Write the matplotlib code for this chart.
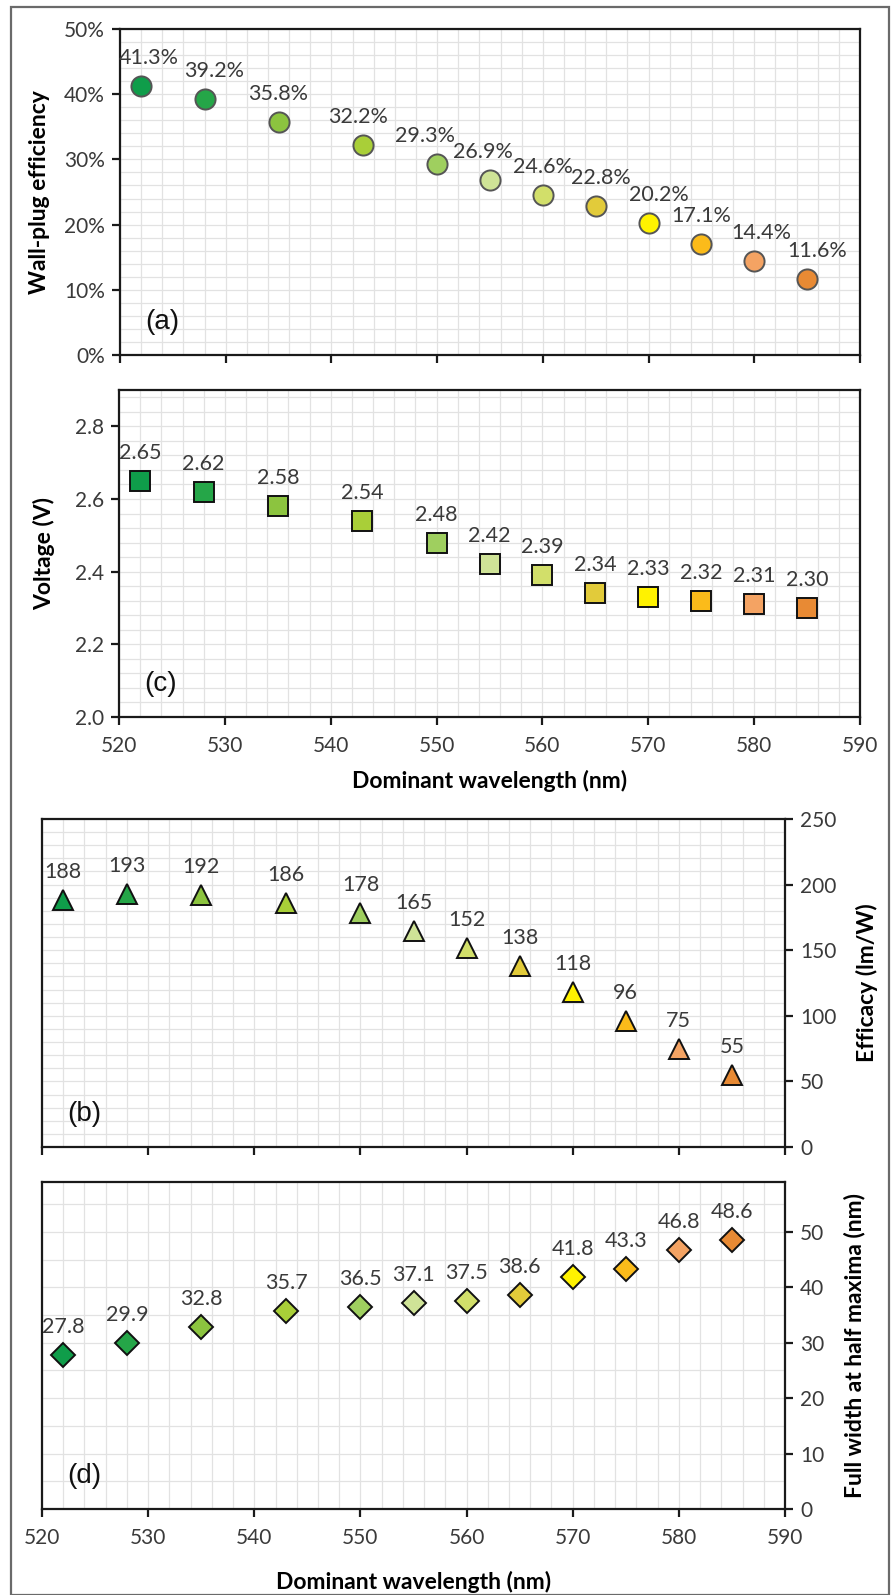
"""Green-to-amber LED performance versus dominant wavelength (four stacked panels)."""

import matplotlib

matplotlib.use("Agg")

import matplotlib.pyplot as plt
from matplotlib.patches import Rectangle
from matplotlib.ticker import FuncFormatter, MultipleLocator

plt.rcParams["font.family"] = ["Lato", "DejaVu Sans"]

# data
wavelength_nm = [522, 528, 535, 543, 550, 555, 560, 565, 570, 575, 580, 585]
wall_plug_eff = [41.3, 39.2, 35.8, 32.2, 29.3, 26.9, 24.6, 22.8, 20.2, 17.1, 14.4, 11.6]
voltage_v = [2.65, 2.62, 2.58, 2.54, 2.48, 2.42, 2.39, 2.34, 2.33, 2.32, 2.31, 2.30]
efficacy_lmw = [188, 193, 192, 186, 178, 165, 152, 138, 118, 96, 75, 55]
fwhm_nm = [27.8, 29.9, 32.8, 35.7, 36.5, 37.1, 37.5, 38.6, 41.8, 43.3, 46.8, 48.6]
point_colors = [
    "#0f9d4a", "#25a648", "#8cc43f", "#a9cf38", "#9fcf5f", "#cfe397",
    "#d2df6a", "#e2cb3a", "#fff200", "#fbbb1a", "#f4a363", "#e88a34",
]

# horizontal nudges (pixels) of the percentage labels in panel (a)
wpe_label_dx = [8, 10, 0, -5, -12, -7, 0, 5, 10, 0, 7, 10]

W, H = 892, 1595
TEXT = "#3a3a3a"
LABEL_FONT = 16.5


def px_axes(fig, left, top, right, bottom):
    return fig.add_axes([left / W, 1 - bottom / H, (right - left) / W, (bottom - top) / H])


def style_axes(ax, ylim, ymajor, yminor, yside="left", xlabels=True):
    ax.set_xlim(520, 590)
    ax.set_ylim(*ylim)
    ax.xaxis.set_major_locator(MultipleLocator(10))
    ax.xaxis.set_minor_locator(MultipleLocator(2))
    ax.yaxis.set_major_locator(MultipleLocator(ymajor))
    ax.yaxis.set_minor_locator(MultipleLocator(yminor))
    ax.grid(True, which="both", color="#e2e2e2", linewidth=0.9)
    ax.set_axisbelow(True)
    for spine in ax.spines.values():
        spine.set_linewidth(1.6)
        spine.set_color("#1a1a1a")
    ax.tick_params(which="minor", length=0)
    ax.tick_params(which="major", direction="out", length=6, width=1.6,
                   labelsize=15, labelcolor=TEXT, color="#1a1a1a")
    ax.tick_params(axis="x", labelbottom=xlabels, pad=8)
    if yside == "right":
        ax.yaxis.tick_right()
        ax.yaxis.set_label_position("right")
    ax.tick_params(axis="y", pad=5)


def scatter_with_labels(ax, yvals, marker, size, edge, fmt, offset=28, dx=None):
    dx = dx or [0] * len(yvals)
    for x, y, c, shift in zip(wavelength_nm, yvals, point_colors, dx):
        ax.plot(x, y, marker=marker, markersize=size, markerfacecolor=c,
                markeredgecolor=edge, markeredgewidth=1.4, linestyle="none", zorder=3)
        ax.annotate(fmt(y), (x, y), xytext=(shift, offset), textcoords="offset pixels",
                    ha="center", va="center", fontsize=15.5, color=TEXT)


def panel_tag(ax, tag):
    ax.text(0.034, 0.10, tag, transform=ax.transAxes, fontsize=20,
            family=["Liberation Sans", "DejaVu Sans"], va="center", ha="left", color="#111111")


fig = plt.figure(figsize=(W / 100, H / 100), dpi=100)
fig.patches.append(Rectangle((11 / W, 0.0), 878 / W, 1 - 7 / H, transform=fig.transFigure,
                             fill=False, edgecolor="#6a6a6a", linewidth=1.6))

# (a) wall-plug efficiency
ax_a = px_axes(fig, 120, 29, 860, 355)
style_axes(ax_a, (0, 50), 10, 2, xlabels=False)
ax_a.yaxis.set_major_formatter(FuncFormatter(lambda v, _: f"{v:.0f}%"))
scatter_with_labels(ax_a, wall_plug_eff, "o", 14.5, "#555555", lambda v: f"{v:.1f}%", dx=wpe_label_dx)
ax_a.set_ylabel("Wall-plug efficiency", fontsize=LABEL_FONT, fontweight="bold", labelpad=10)
panel_tag(ax_a, "(a)")

# (c) forward voltage
ax_c = px_axes(fig, 119, 390, 860, 717)
style_axes(ax_c, (2.0, 2.9), 0.2, 0.04)
ax_c.yaxis.set_major_formatter(FuncFormatter(lambda v, _: f"{v:.1f}"))
scatter_with_labels(ax_c, voltage_v, "s", 14, "#111111", lambda v: f"{v:.2f}")
ax_c.set_ylabel("Voltage (V)", fontsize=LABEL_FONT, fontweight="bold", labelpad=14)
ax_c.set_xlabel("Dominant wavelength (nm)", fontsize=LABEL_FONT, fontweight="bold", labelpad=10)
panel_tag(ax_c, "(c)")

# (b) luminous efficacy
ax_b = px_axes(fig, 42, 819, 785, 1147)
style_axes(ax_b, (0, 250), 50, 10, yside="right", xlabels=False)
scatter_with_labels(ax_b, efficacy_lmw, "^", 15, "#111111", lambda v: f"{v:d}")
ax_b.set_ylabel("Efficacy (lm/W)", fontsize=LABEL_FONT, fontweight="bold", labelpad=14)
panel_tag(ax_b, "(b)")

# (d) spectral width
ax_d = px_axes(fig, 42, 1182, 785, 1509)
style_axes(ax_d, (0, 59), 10, 5, yside="right")
scatter_with_labels(ax_d, fwhm_nm, "D", 12, "#111111", lambda v: f"{v:.1f}")
ax_d.set_ylabel("Full width at half maxima (nm)", fontsize=LABEL_FONT, fontweight="bold", labelpad=14)
ax_d.set_xlabel("Dominant wavelength (nm)", fontsize=LABEL_FONT, fontweight="bold", labelpad=16)
panel_tag(ax_d, "(d)")

fig.savefig("out.png", dpi=100)
